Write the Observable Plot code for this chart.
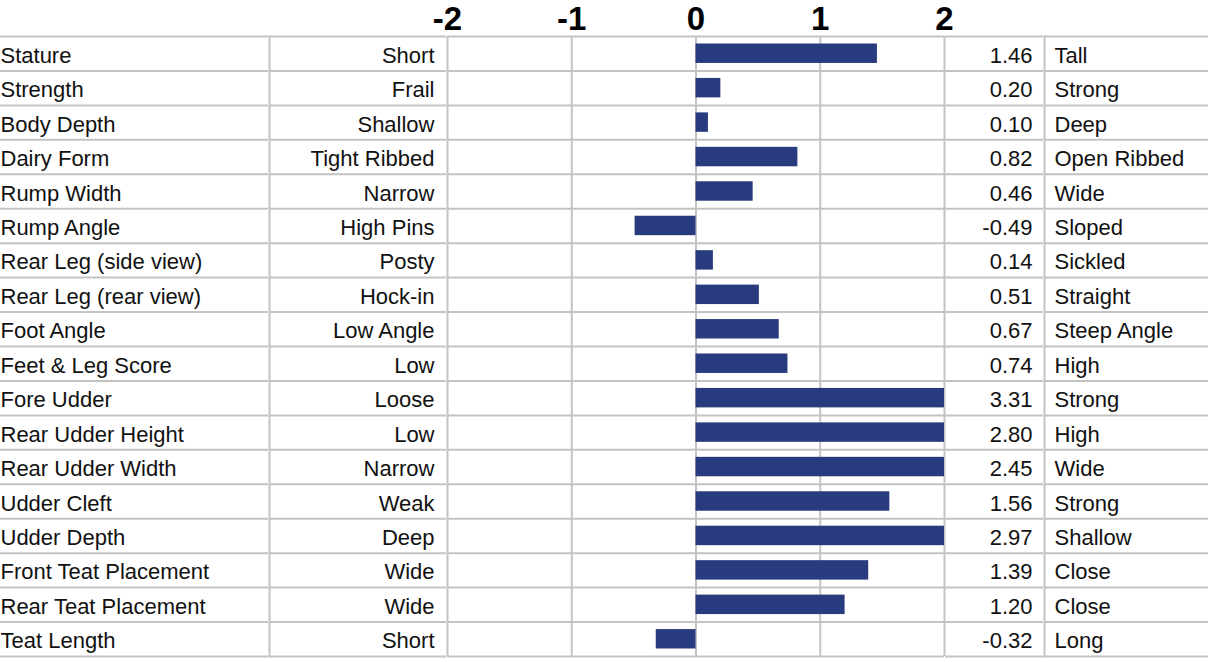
<!DOCTYPE html>
<html>
<head>
<meta charset="utf-8">
<script src="https://cdn.jsdelivr.net/npm/d3@7"></script>
<script src="https://cdn.jsdelivr.net/npm/@observablehq/plot@0.6"></script>
<style>
  html, body { margin: 0; padding: 0; background: #ffffff; }
  #chart { display: flex; flex-direction: row; width: 1211px; height: 662px; }
  #chart svg { flex: none; display: block; overflow: visible; }
</style>
</head>
<body>
<div id="chart"></div>
<script>
const traits = ["Stature","Strength","Body Depth","Dairy Form","Rump Width","Rump Angle","Rear Leg (side view)","Rear Leg (rear view)","Foot Angle","Feet & Leg Score","Fore Udder","Rear Udder Height","Rear Udder Width","Udder Cleft","Udder Depth","Front Teat Placement","Rear Teat Placement","Teat Length"];
const lowLabels = ["Short","Frail","Shallow","Tight Ribbed","Narrow","High Pins","Posty","Hock-in","Low Angle","Low","Loose","Low","Narrow","Weak","Deep","Wide","Wide","Short"];
const values = [1.46,0.20,0.10,0.82,0.46,-0.49,0.14,0.51,0.67,0.74,3.31,2.80,2.45,1.56,2.97,1.39,1.20,-0.32];
const highLabels = ["Tall","Strong","Deep","Open Ribbed","Wide","Sloped","Sickled","Straight","Steep Angle","High","Strong","High","Wide","Strong","Shallow","Close","Close","Long"];
const xTicks = [-2,-1,0,1,2];
const tickLabels = ["-2","-1","0","1","2"];

const rows = traits.map((t, i) => ({trait: t, low: lowLabels[i], value: values[i], high: highLabels[i]}));

const H = 662, MT = 36, MB = 6;
const bw = (H - MT - MB) / traits.length;
const gridColor = "#c3c3c3";
const gridW = 2;
const barColor = "#283b7e";
const font = "'Liberation Sans', Arial, Helvetica, sans-serif";
const textDy = 2;

function yOpt() {
  return {type: "band", domain: traits, padding: 0, round: false, axis: null};
}
function hLines() {
  return [
    Plot.ruleY(traits, {y: d => d, dy: -bw / 2, stroke: gridColor, strokeWidth: gridW}),
    Plot.ruleY([traits[traits.length - 1]], {y: d => d, dy: bw / 2, stroke: gridColor, strokeWidth: gridW})
  ];
}
const baseStyle = {fontFamily: font, fontSize: "22px", background: "transparent", color: "#111", overflow: "visible"};

function textColumn(width, opts) {
  const marks = [...hLines()];
  if (opts.leftBorder) marks.push(Plot.frame({anchor: "left", stroke: gridColor, strokeWidth: gridW}));
  marks.push(Plot.text(rows, {
    y: "trait", text: opts.text, frameAnchor: opts.anchor, textAnchor: opts.anchor === "left" ? "start" : "end",
    dx: opts.dx, dy: textDy, fill: "#111", fontSize: 22
  }));
  return Plot.plot({
    width, height: H, marginTop: MT, marginBottom: MB,
    marginLeft: opts.leftBorder ? 1 : 0, marginRight: opts.marginRight || 0,
    y: yOpt(), style: baseStyle, marks
  });
}

const chart = document.getElementById("chart");

chart.appendChild(textColumn(268, {text: "trait", anchor: "left", dx: 0}));
chart.appendChild(textColumn(178, {text: "low", anchor: "right", dx: -12, leftBorder: true}));

chart.appendChild(Plot.plot({
  width: 499, height: H, marginTop: MT, marginBottom: MB, marginLeft: 1, marginRight: 1,
  x: {domain: [-2, 2], clamp: true, axis: null, label: null},
  y: yOpt(),
  style: baseStyle,
  marks: [
    Plot.ruleX(xTicks, {x: d => d, stroke: gridColor, strokeWidth: gridW}),
    ...hLines(),
    Plot.barX(rows, {y: "trait", x: "value", fill: barColor, insetTop: 7.5, insetBottom: 7.5}),
    Plot.axisX({
      anchor: "top", ticks: xTicks, tickFormat: (d) => tickLabels[xTicks.indexOf(d)],
      tickSize: 0, tickPadding: 7, label: null, fontSize: 33, fontWeight: "bold",
      fontFamily: "'Liberation Sans', Arial, sans-serif",
      fill: "#000"
    })
  ]
}));

chart.appendChild(textColumn(98, {text: d => d.value.toFixed(2), anchor: "right", dx: -11}));
chart.appendChild(textColumn(168, {text: "high", anchor: "left", dx: 10, leftBorder: true, marginRight: 3}));
</script>
</body>
</html>
